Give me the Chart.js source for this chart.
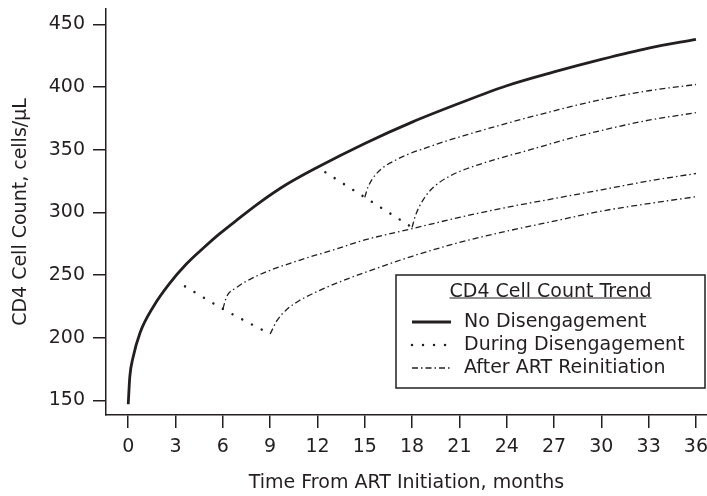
<!DOCTYPE html>
<html>
<head>
<meta charset="utf-8">
<script src="https://cdn.jsdelivr.net/npm/chart.js@4"></script>
<style>
  body { margin: 0; background: #fff; }
</style>
</head>
<body>
<canvas id="cd4Chart" width="707" height="496"></canvas>
<script>
const monthTicks = [0, 3, 6, 9, 12, 15, 18, 21, 24, 27, 30, 33, 36];
const countTicks = [150, 200, 250, 300, 350, 400, 450];

// no disengagement
const noDisMonths = [0, 0.1, 0.3, 0.75, 1.6, 2.6, 3.7, 4.8, 5.8, 6.9, 8.35, 10, 12, 15, 18, 21, 24, 27, 30, 33, 36];
const noDisCounts = [147, 169, 184, 204, 225, 243, 259, 272, 283, 294, 308, 322, 336, 355, 372, 387, 401, 412, 422, 431, 438];

// during disengagement
const dis1Months = [3.6, 6, 9];
const dis1Counts = [241, 223, 203];
const dis2Months = [12.5, 15, 18];
const dis2Counts = [332, 312, 288];

// after ART reinitiation
const re6Months = [6, 6.25, 6.8, 8.1, 10.9, 13, 15, 18, 21, 24, 27, 30, 33, 36];
const re6Counts = [223, 233, 239.5, 249, 262, 270, 278, 287, 296, 304, 311, 318, 325, 331];
const re9Months = [9, 9.4, 10, 10.9, 12, 13.5, 15, 18, 21, 24, 27, 30, 33, 36];
const re9Counts = [203, 213, 222, 230, 237, 245, 252, 265, 276, 285, 293, 301, 307, 312.5];
const re15Months = [15, 15.2, 15.75, 17, 19, 21.5, 24, 27, 30, 33, 36];
const re15Counts = [312, 320, 331, 342, 352, 362, 371, 381, 390, 397, 402];
const re18Months = [18, 18.2, 18.7, 19.35, 20.4, 21.5, 23.5, 25.5, 28, 30.75, 33, 36];
const re18Counts = [288, 297, 310, 320, 329, 335, 343, 350, 359, 367.5, 373.5, 379.5];

const legendTitle = 'CD4 Cell Count Trend';
const legendLabels = ['No Disengagement', 'During Disengagement', 'After ART Reinitiation'];

const ink = '#231f20';
const fontName = '"DejaVu Sans", "Liberation Sans", sans-serif';
const dotDash = [0.01, 11];
const dashDot = [6, 3, 1.5, 3];

function toPoints(xs, ys) {
    return xs.map((x, i) => ({ x: x, y: ys[i] }));
}

function lineSet(label, xs, ys, width, dash, cap) {
    return {
        label: label,
        data: toPoints(xs, ys),
        borderColor: ink,
        borderWidth: width,
        borderDash: dash,
        borderCapStyle: cap,
        pointRadius: 0,
        fill: false,
        cubicInterpolationMode: 'monotone'
    };
}

const legendBox = {
    id: 'legendBox',
    afterDraw(chart) {
        const ctx = chart.ctx;
        const area = chart.chartArea;
        const sets = chart.data.datasets;
        const w = 309, h = 113;
        const left = area.right - 2 - w;
        const top = area.bottom - 27 - h;

        ctx.save();
        ctx.fillStyle = '#fff';
        ctx.fillRect(left, top, w, h);
        ctx.strokeStyle = ink;
        ctx.lineWidth = 1.5;
        ctx.setLineDash([]);
        ctx.strokeRect(left, top, w, h);

        ctx.font = '19px ' + fontName;
        ctx.fillStyle = ink;
        ctx.textBaseline = 'middle';
        ctx.textAlign = 'center';
        const cx = left + w / 2;
        ctx.fillText(legendTitle, cx, top + 17);
        const tw = ctx.measureText(legendTitle).width;
        ctx.lineWidth = 1.2;
        ctx.beginPath();
        ctx.moveTo(cx - tw / 2, top + 23);
        ctx.lineTo(cx + tw / 2, top + 23);
        ctx.stroke();

        ctx.textAlign = 'left';
        const samples = [sets[0], sets[1], sets[3]];
        const rows = [47, 70, 93];
        samples.forEach((ds, i) => {
            const y = top + rows[i];
            ctx.strokeStyle = ds.borderColor;
            ctx.lineWidth = ds.borderWidth;
            ctx.lineCap = ds.borderCapStyle;
            ctx.setLineDash(ds.borderDash);
            ctx.beginPath();
            ctx.moveTo(left + 16, y);
            ctx.lineTo(left + 55, y);
            ctx.stroke();
            ctx.fillText(legendLabels[i], left + 68, y);
        });
        ctx.restore();
    }
};

function renderChart() {
    const ctx = document.getElementById('cd4Chart').getContext('2d');
    new Chart(ctx, {
        type: 'line',
        data: {
            datasets: [
                lineSet('No Disengagement', noDisMonths, noDisCounts, 2.8, [], 'butt'),
                lineSet('During Disengagement', dis1Months, dis1Counts, 2.5, dotDash, 'round'),
                lineSet('During Disengagement', dis2Months, dis2Counts, 2.5, dotDash, 'round'),
                lineSet('After ART Reinitiation', re6Months, re6Counts, 1.3, dashDot, 'butt'),
                lineSet('After ART Reinitiation', re9Months, re9Counts, 1.3, dashDot, 'butt'),
                lineSet('After ART Reinitiation', re15Months, re15Counts, 1.3, dashDot, 'butt'),
                lineSet('After ART Reinitiation', re18Months, re18Counts, 1.3, dashDot, 'butt')
            ]
        },
        options: {
            responsive: false,
            animation: false,
            devicePixelRatio: 1,
            layout: { padding: { top: 9, left: 0, right: 0, bottom: 0 } },
            plugins: {
                legend: { display: false },
                tooltip: { enabled: false }
            },
            scales: {
                x: {
                    type: 'linear',
                    min: -1.41,
                    max: 36.7,
                    afterBuildTicks: (scale) => { scale.ticks = monthTicks.map(v => ({ value: v })); },
                    afterFit: (scale) => {
                        scale.height = 81;
                        scale.paddingLeft = 0;
                        scale.paddingRight = 0;
                    },
                    ticks: {
                        autoSkip: false,
                        maxRotation: 0,
                        padding: 8,
                        color: ink,
                        font: { family: fontName, size: 19 },
                        callback: (v) => String(v)
                    },
                    grid: { drawOnChartArea: false, tickLength: 13, color: ink, lineWidth: 1.5 },
                    border: { display: true, color: ink, width: 1.5 },
                    title: {
                        display: true,
                        text: 'Time From ART Initiation, months',
                        color: ink,
                        font: { family: fontName, size: 19 },
                        padding: { top: 0, bottom: 2 }
                    }
                },
                y: {
                    type: 'linear',
                    min: 138.4,
                    max: 462.2,
                    afterBuildTicks: (scale) => { scale.ticks = countTicks.map(v => ({ value: v })); },
                    afterFit: (scale) => {
                        scale.width = 106;
                        scale.paddingTop = 0;
                        scale.paddingBottom = 0;
                    },
                    ticks: {
                        autoSkip: false,
                        padding: 8,
                        color: ink,
                        font: { family: fontName, size: 19 },
                        callback: (v) => String(v)
                    },
                    grid: { drawOnChartArea: false, tickLength: 13, color: ink, lineWidth: 1.5 },
                    border: { display: true, color: ink, width: 1.5 },
                    title: {
                        display: true,
                        text: 'CD4 Cell Count, cells/μL',
                        color: ink,
                        font: { family: fontName, size: 19 },
                        padding: { top: 10, bottom: 0 }
                    }
                }
            }
        },
        plugins: [legendBox]
    });
}

renderChart();
</script>
</body>
</html>
